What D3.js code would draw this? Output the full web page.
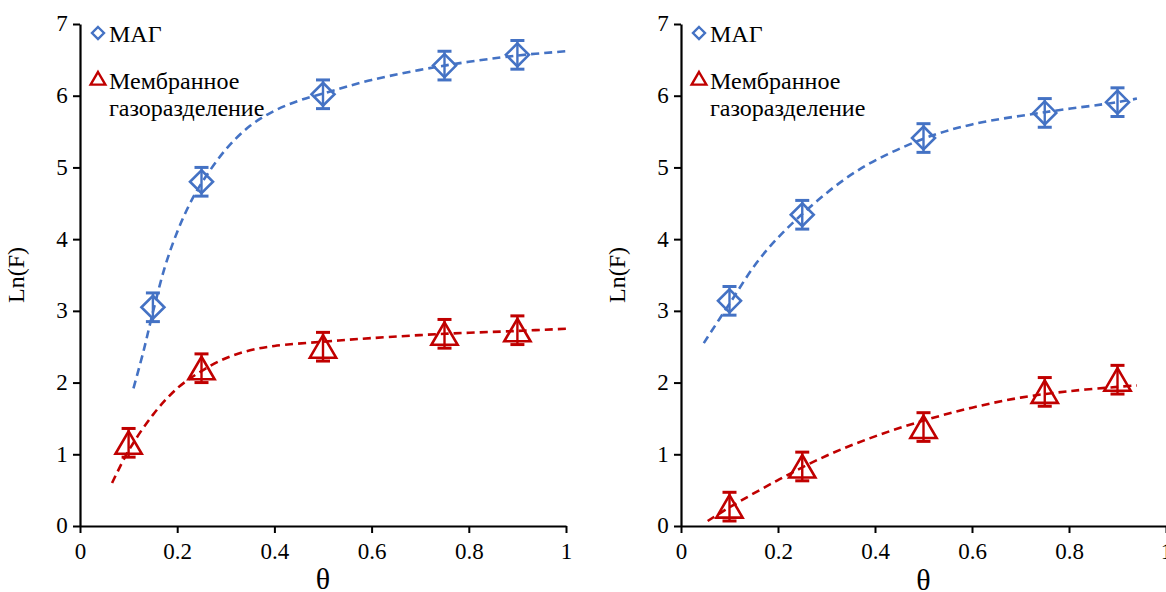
<!DOCTYPE html>
<html>
<head>
<meta charset="utf-8">
<script src="https://cdn.jsdelivr.net/npm/d3@7"></script>
<style>
  html, body { margin: 0; padding: 0; background: #fff; }
  svg { display: block; font-family: "Liberation Serif", "Times New Roman", serif; }
  svg text { font-family: "Liberation Serif", "Times New Roman", serif; }
</style>
</head>
<body>
<svg id="chart" width="1166" height="592"></svg>
<script>
// Measured points (theta, Ln(F)) and their error half-widths
const thetaMagLeft = [0.15, 0.25, 0.5, 0.75, 0.9];
const lnMagLeft    = [3.05, 4.80, 6.02, 6.42, 6.57];
const thetaMemLeft = [0.1, 0.25, 0.5, 0.75, 0.9];
const lnMemLeft    = [1.16, 2.20, 2.50, 2.68, 2.73];

const thetaMagRight = [0.1, 0.25, 0.5, 0.75, 0.9];
const lnMagRight    = [3.14, 4.34, 5.41, 5.76, 5.91];
const thetaMemRight = [0.1, 0.25, 0.5, 0.75, 0.9];
const lnMemRight    = [0.27, 0.83, 1.38, 1.87, 2.04];

const errorHalf = [0.2, 0.2, 0.2, 0.2, 0.2];

// Trend curves, sampled along the fitted lines
const fitMagLeft = [[0.11,1.92],[0.13,2.42],[0.15,2.98],[0.175,3.62],[0.2,4.1],[0.225,4.48],[0.25,4.78],[0.3,5.25],[0.35,5.58],[0.4,5.79],[0.45,5.93],[0.5,6.03],[0.6,6.22],[0.75,6.42],[0.9,6.56],[1.0,6.62]];
const fitMemLeft = [[0.066,0.6],[0.1,1.05],[0.15,1.55],[0.2,1.92],[0.25,2.16],[0.3,2.34],[0.35,2.45],[0.4,2.51],[0.5,2.57],[0.6,2.62],[0.75,2.68],[0.9,2.72],[1.0,2.75]];
const fitMagRight = [[0.047,2.55],[0.1,3.1],[0.165,3.75],[0.25,4.35],[0.365,4.96],[0.5,5.4],[0.6,5.6],[0.75,5.77],[0.9,5.91],[0.94,5.96]];
const fitMemRight = [[0.055,0.07],[0.1,0.26],[0.2,0.64],[0.3,0.98],[0.4,1.25],[0.5,1.47],[0.6,1.65],[0.7,1.79],[0.8,1.88],[0.9,1.94],[0.94,1.96]];

const xTicks = [0, 0.2, 0.4, 0.6, 0.8, 1];
const yTicks = [0, 1, 2, 3, 4, 5, 6, 7];
const seriesNames = ["МАГ", "Мембранное", "газоразделение"];
const xTitle = "θ";
const yTitle = "Ln(F)";

const BLUE = "#4472C4";
const RED = "#C00000";
const SERIF = "'Liberation Serif', 'Times New Roman', serif";

const svg = d3.select("#chart");

function drawPanel(opts) {
  const g = svg.append("g");
  const x = d3.scaleLinear().domain([0, 1]).range([opts.x0, opts.x1]);
  const y = d3.scaleLinear().domain([0, 7]).range([526, 24]);

  // axes
  const xAxis = d3.axisBottom(x).tickValues(xTicks).tickSize(7).tickSizeOuter(0)
    .tickFormat(d => d === 0 || d === 1 ? String(d) : d3.format(".1f")(d));
  const yAxis = d3.axisLeft(y).tickValues(yTicks).tickSize(7).tickSizeOuter(0)
    .tickFormat(d3.format("d"));

  const gx = g.append("g").attr("transform", `translate(0,${y(0)})`).call(xAxis);
  const gy = g.append("g").attr("transform", `translate(${x(0)},0)`).call(yAxis);
  [gx, gy].forEach(a => {
    a.attr("font-family", null).attr("font-size", null);
    a.select(".domain").attr("stroke", "#000").attr("stroke-width", 2.2);
    a.selectAll(".tick line").attr("stroke", "#000").attr("stroke-width", 2);
    a.selectAll(".tick text").attr("fill", "#000")
      .style("font-family", SERIF).style("font-size", "23px");
  });
  gx.selectAll(".tick text").attr("dy", "1.0em");
  gy.selectAll(".tick text").attr("dx", "-0.1em").attr("dy", "0.3em");

  // axis titles
  g.append("text").attr("x", (x(0) + x(1)) / 2).attr("y", opts.titleY)
    .attr("text-anchor", "middle").style("font-family", SERIF).style("font-size", "30px").text(xTitle);
  g.append("text")
    .attr("transform", `translate(${x(0) - 56},${y(3.5)}) rotate(-90)`)
    .attr("text-anchor", "middle").style("font-family", SERIF).style("font-size", "24px").text(yTitle);

  const line = d3.line().x(d => x(d[0])).y(d => y(d[1])).curve(d3.curveCatmullRom.alpha(0.5));

  // trend lines
  [[opts.fitMag, BLUE], [opts.fitMem, RED]].forEach(([pts, c]) => {
    g.append("path").datum(pts).attr("d", line)
      .attr("fill", "none").attr("stroke", c).attr("stroke-width", 2.6)
      .attr("stroke-dasharray", "8,5");
  });

  // error bars
  function errorBars(xs, ys, c) {
    const eb = g.append("g").attr("stroke", c).attr("stroke-width", 2.4);
    xs.forEach((t, i) => {
      const cx = x(t), lo = y(ys[i] - errorHalf[i]), hi = y(ys[i] + errorHalf[i]);
      eb.append("line").attr("x1", cx).attr("x2", cx).attr("y1", lo).attr("y2", hi);
      eb.append("line").attr("x1", cx - 7).attr("x2", cx + 7).attr("y1", lo).attr("y2", lo).attr("stroke-width", 3);
      eb.append("line").attr("x1", cx - 7).attr("x2", cx + 7).attr("y1", hi).attr("y2", hi).attr("stroke-width", 3);
    });
  }

  const diamond = r => `M0,${-r}L${r},0L0,${r}L${-r},0Z`;
  const triangle = r => `M0,${-r}L${r * 1.05},${r * 0.8}L${-r * 1.05},${r * 0.8}Z`;

  // markers
  g.append("g").selectAll("path").data(opts.magX).join("path")
    .attr("transform", (d, i) => `translate(${x(d)},${y(opts.magY[i])})`)
    .attr("d", diamond(11.5)).attr("fill", "none").attr("stroke", BLUE).attr("stroke-width", 2.6);
  errorBars(opts.magX, opts.magY, BLUE);

  g.append("g").selectAll("path").data(opts.memX).join("path")
    .attr("transform", (d, i) => `translate(${x(d)},${y(opts.memY[i]) + 1})`)
    .attr("d", triangle(12.5)).attr("fill", "none").attr("stroke", RED).attr("stroke-width", 2.6);
  errorBars(opts.memX, opts.memY, RED);

  // legend
  const lx = x(0) + 18;
  const lg = g.append("g").style("font-family", SERIF).style("font-size", "24px");
  lg.append("path").attr("transform", `translate(${lx},33)`).attr("d", diamond(6))
    .attr("fill", "none").attr("stroke", BLUE).attr("stroke-width", 2.4);
  lg.append("text").attr("x", lx + 11).attr("y", 42).text(seriesNames[0]);
  lg.append("path").attr("transform", `translate(${lx},79)`).attr("d", triangle(7))
    .attr("fill", "none").attr("stroke", RED).attr("stroke-width", 2.4);
  lg.append("text").attr("x", lx + 11).attr("y", 89).text(seriesNames[1]);
  lg.append("text").attr("x", lx + 11).attr("y", 116).text(seriesNames[2]);
}

drawPanel({ x0: 80, x1: 566, titleY: 589, magX: thetaMagLeft, magY: lnMagLeft, memX: thetaMemLeft, memY: lnMemLeft,
  fitMag: fitMagLeft, fitMem: fitMemLeft });
drawPanel({ x0: 681, x1: 1166, titleY: 590, magX: thetaMagRight, magY: lnMagRight, memX: thetaMemRight, memY: lnMemRight,
  fitMag: fitMagRight, fitMem: fitMemRight });
</script>
</body>
</html>
